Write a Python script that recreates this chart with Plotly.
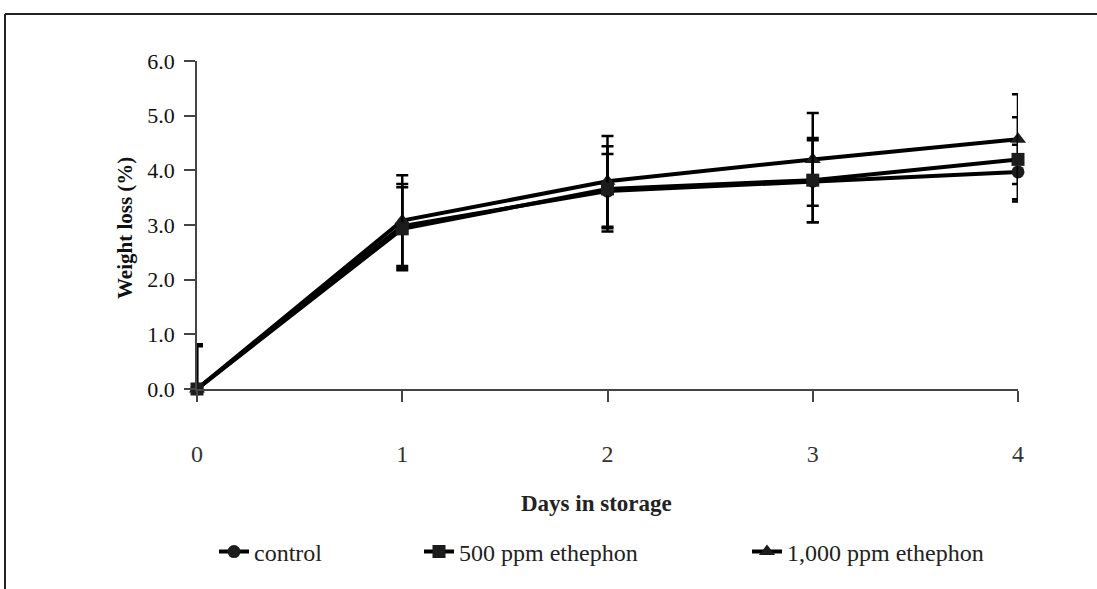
import plotly.graph_objects as go

days = [0, 1, 2, 3, 4]
x_tick_labels = ["0", "1", "2", "3", "4"]
y_tick_vals = [0, 1, 2, 3, 4, 5, 6]
y_tick_labels = ["0.0", "1.0", "2.0", "3.0", "4.0", "5.0", "6.0"]

control = [0.0, 2.98, 3.62, 3.80, 3.97]
control_err = [0.80, 0.77, 0.68, 0.75, 0.50]

ppm500 = [0.0, 2.93, 3.66, 3.82, 4.20]
ppm500_err = [0.78, 0.76, 0.78, 0.77, 0.77]

ppm1000 = [0.0, 3.08, 3.80, 4.20, 4.57]
ppm1000_err = [0.82, 0.83, 0.83, 0.85, 0.82]

names = ["control", "500 ppm ethephon", "1,000 ppm ethephon"]

SERIF = "Liberation Serif, Times New Roman, serif"

fig = go.Figure()

def add(y, err, name, symbol, size, legend):
    fig.add_trace(go.Scatter(
        x=days, y=y, name=name, mode="lines+markers",
        line=dict(color="#000000", width=4),
        marker=dict(symbol=symbol, size=size, color="#1c1c1c"),
        error_y=dict(type="data", array=err, visible=True, color="#000000",
                     thickness=2.5, width=6),
        cliponaxis=False, legend=legend,
    ))

add(control, control_err, names[0], "circle", 13, "legend")
add(ppm1000, ppm1000_err, names[2], "triangle-up", 14, "legend3")
add(ppm500, ppm500_err, names[1], "square", 13, "legend2")

L, R, T, B = 197, 79, 61, 200
W, H = 1097, 589
pw, ph = W - L - R, H - T - B

def px(xp):
    return (xp - L) / pw

def py(yp):
    return (H - B - yp) / ph

leg_common = dict(orientation="h", yanchor="middle", xanchor="left",
                  font=dict(family=SERIF, size=24, color="#222"),
                  bgcolor="rgba(0,0,0,0)", borderwidth=0)

fig.update_layout(
    width=W, height=H,
    margin=dict(l=L, r=R, t=T, b=B, autoexpand=False),
    paper_bgcolor="white", plot_bgcolor="white",
    showlegend=True,
    legend=dict(x=px(214), y=py(552), **leg_common),
    legend2=dict(x=px(419), y=py(552), **leg_common),
    legend3=dict(x=px(747), y=py(552), **leg_common),
    xaxis=dict(
        range=[0, 4], tickvals=days, ticktext=x_tick_labels,
        showgrid=False, zeroline=False, showline=True,
        linecolor="#444", linewidth=1.5,
        ticks="outside", ticklen=11, tickcolor="#444", tickwidth=1.5,
        tickfont=dict(family=SERIF, size=24, color="#333"),
        ticklabelstandoff=31,
    ),
    yaxis=dict(
        range=[0, 6], tickvals=y_tick_vals, ticktext=y_tick_labels,
        showgrid=False, zeroline=False, showline=True,
        linecolor="#444", linewidth=1.5,
        ticks="outside", ticklen=11, tickcolor="#444", tickwidth=1.5,
        tickfont=dict(family=SERIF, size=22, color="#111"),
        ticklabelstandoff=5,
    ),
    annotations=[
        dict(text="<b>Weight loss (%)</b>", xref="paper", yref="paper",
             x=px(125), y=py(228), textangle=-90, showarrow=False,
             xanchor="center", yanchor="middle",
             font=dict(family=SERIF, size=21, color="#111")),
        dict(text="<b>Days in storage</b>", xref="paper", yref="paper",
             x=px(596), y=py(503), showarrow=False,
             xanchor="center", yanchor="middle",
             font=dict(family=SERIF, size=23, color="#222")),
    ],
    shapes=[
        dict(type="line", xref="paper", yref="paper",
             x0=px(5), x1=px(1097), y0=py(14), y1=py(14),
             line=dict(color="#222", width=2)),
        dict(type="line", xref="paper", yref="paper",
             x0=px(5), x1=px(5), y0=py(14), y1=py(589),
             line=dict(color="#222", width=2)),
    ],
)

fig.write_html("out.html")
